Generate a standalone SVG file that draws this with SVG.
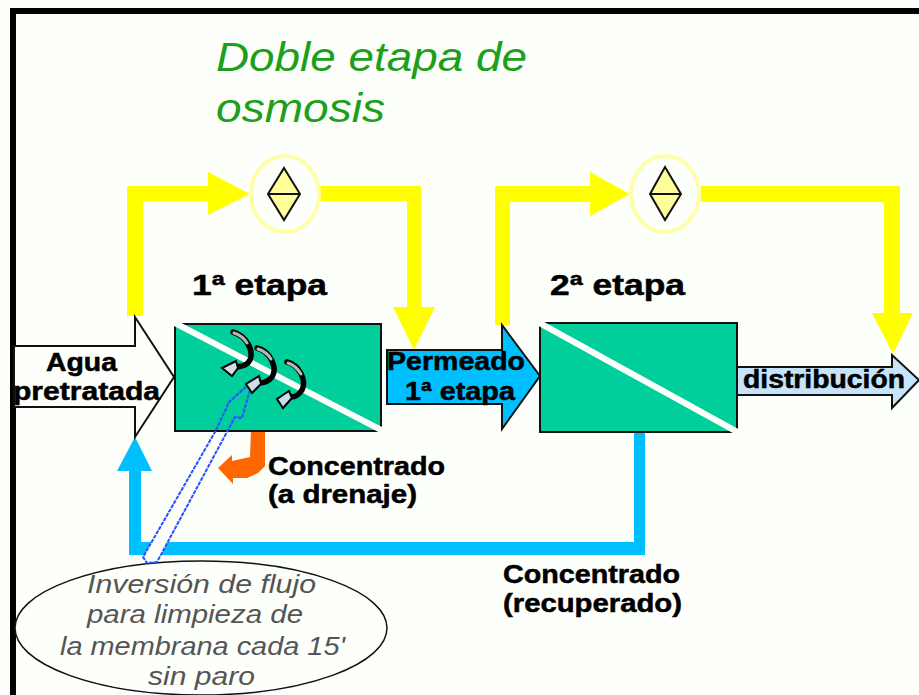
<svg xmlns="http://www.w3.org/2000/svg" width="919" height="695" viewBox="0 0 919 695">
<style>
text{font-family:"Liberation Sans",Arial,sans-serif}
.b{font-weight:700;fill:#000;stroke:#000;stroke-width:.5;font-size:25px}
.h{font-weight:700;fill:#000;stroke:#000;stroke-width:.5;font-size:29px}
.i{font-style:italic;fill:#555;font-size:25px}
.t{font-style:italic;fill:#1ca01c;font-size:41px}
.y{fill:#ff0}
.c{fill:#00bfff}
.m{fill:#00cf9b}
.k{stroke:#111;stroke-width:2;fill:none}
.d{stroke:#fdfffb;stroke-width:6;fill:none}
.v{fill:#ffff99;stroke:#111;stroke-width:2}
.r{fill:#fdfffb;stroke:#ffffaa;stroke-width:4}
.q{fill:none;stroke:#000;stroke-width:5.5;stroke-linecap:round}
.q2{fill:none;stroke:#b8b8b8;stroke-width:3;stroke-linecap:round}
.qh{fill:#cfdde8;stroke:#000;stroke-width:2}
</style>
<rect width="919" height="695" fill="#fdfffb"/>
<g id="frame"><rect x="10" y="8" width="909" height="6" fill="#000"/><rect x="10" y="8" width="6" height="687" fill="#000"/></g>
<g id="title"><text class="t" x="216" y="71" textLength="311" lengthAdjust="spacingAndGlyphs">Doble etapa de</text><text class="t" x="216" y="122" textLength="169" lengthAdjust="spacingAndGlyphs">osmosis</text></g>
<g id="connectors">
<path class="y" d="M127 316V186H208V172L250 194L208 215V201H143V316Z"/>
<path class="y" d="M320 186H421V307H435L414 350L393 307H407V201H320Z"/>
<path class="y" d="M495 325V186H590V172L630 194L590 216V202H510V325Z"/>
<path class="y" d="M701 186H900V313H913L893 354L872 313H884V202H701Z"/>
<path class="c" d="M135 437L152 471H141V542H634V432H645V555H129V471H117Z"/>
<path d="M251 428H265V466L258 473L247 478L233 478V484L218 468L232 455V461L250 457Z" fill="#f60"/>
</g>
<g id="feed"><path d="M14 346H135V317L174 377L135 437V407H14Z" fill="#fdfffb" stroke="#111" stroke-width="2"/><text class="b" x="46" y="371" textLength="71" lengthAdjust="spacingAndGlyphs">Agua</text><text class="b" x="13" y="400" textLength="147" lengthAdjust="spacingAndGlyphs">pretratada</text></g>
<g id="stage1">
<rect class="m" x="175" y="324" width="206" height="107"/>
<path class="k" d="M175 324H381V431H175Z"/>
<path class="d" d="M171 321L385 432"/>
<text class="h" x="192" y="295" textLength="135" lengthAdjust="spacingAndGlyphs">1ª etapa</text>
</g>
<g id="permeate"><path d="M387 350H502V325L540 376L502 429V404H387Z" fill="#00bfff" stroke="#111" stroke-width="2"/><text class="b" x="387" y="370" textLength="138" lengthAdjust="spacingAndGlyphs">Permeado</text><text class="b" x="405" y="400" textLength="110" lengthAdjust="spacingAndGlyphs">1ª etapa</text></g>
<g id="stage2">
<rect class="m" x="540" y="323" width="197" height="109"/>
<path class="k" d="M540 323H737V432H540Z"/>
<path class="d" d="M536 321L741 434"/>
<text class="h" x="550" y="295" textLength="135" lengthAdjust="spacingAndGlyphs">2ª etapa</text>
</g>
<g id="valve1"><ellipse class="r" cx="285" cy="194" rx="34" ry="38"/><path class="v" d="M284 168L300 194L284 220L268 194Z"/><path class="k" d="M268 194H300"/></g>
<g id="valve2"><ellipse class="r" cx="665" cy="194" rx="34" ry="38"/><path class="v" d="M665 167L681 194L665 220L650 194Z"/><path class="k" d="M650 194H681"/></g>
<g id="distribution"><path d="M737 367H892V355L919 380L892 408V395H737Z" fill="#c5e3f9" stroke="#111" stroke-width="2"/><text class="b" x="743" y="388" textLength="162" lengthAdjust="spacingAndGlyphs">distribución</text></g>
<g id="note">
<ellipse cx="201" cy="628" rx="186" ry="67" fill="#fdfffb" stroke="#111" stroke-width="1.5"/>
<path d="M153 540H169L160 557H143Z" fill="#fdfffb"/>
<path d="M248 385L250 390L242 418L235 417L157 562L147 563L143 557L215 432L227 407L228 403Z" fill="none" stroke="#2a50ff" stroke-width="2" stroke-dasharray="4 1"/>
<text class="i" x="87" y="593" textLength="229" lengthAdjust="spacingAndGlyphs">Inversión de flujo</text><text class="i" x="87" y="623" textLength="216" lengthAdjust="spacingAndGlyphs">para limpieza de</text><text class="i" x="60" y="655" textLength="285" lengthAdjust="spacingAndGlyphs">la membrana cada 15'</text><text class="i" x="148" y="685" textLength="107" lengthAdjust="spacingAndGlyphs">sin paro</text>
</g>
<g id="swirls">
<path class="q" d="M233 332C246 336 254 350 250 360C247 366 242 366 236 367"/><path class="q2" d="M234 333C240 335 244 338 247 343"/><path class="qh" d="M222 368L236 361L238 368L232 376Z"/>
<path class="q" d="M257 348C270 351 278 368 272 377C268 382 264 383 259 383"/><path class="q2" d="M258 349C264 351 268 354 271 359"/><path class="qh" d="M246 384L259 376L261 384L252 393Z"/>
<path class="q" d="M287 362C299 365 307 380 302 390C298 396 295 397 291 397"/><path class="q2" d="M288 363C294 365 298 369 301 374"/><path class="qh" d="M277 399L289 391L292 398L283 408Z"/>
</g>
<g id="drain-label"><text class="b" x="268" y="475" textLength="177" lengthAdjust="spacingAndGlyphs">Concentrado</text><text class="b" x="268" y="503" textLength="149" lengthAdjust="spacingAndGlyphs">(a drenaje)</text></g>
<g id="recovered-label"><text class="b" x="503" y="583" textLength="177" lengthAdjust="spacingAndGlyphs">Concentrado</text><text class="b" x="503" y="612" textLength="179" lengthAdjust="spacingAndGlyphs">(recuperado)</text></g>
</svg>
